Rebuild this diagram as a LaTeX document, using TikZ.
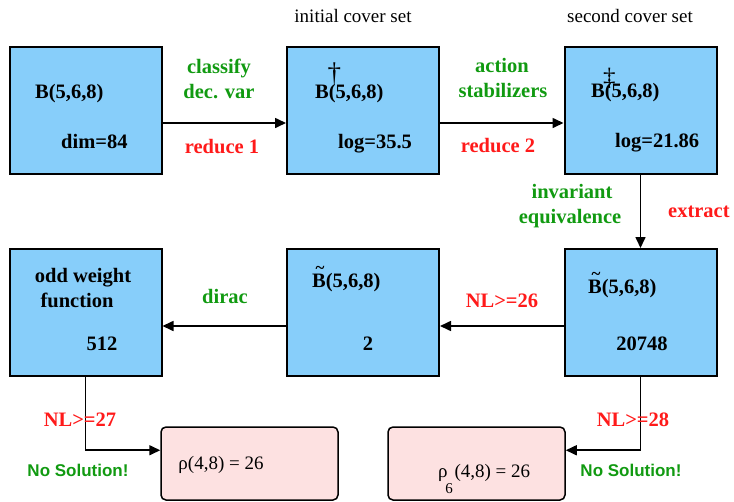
\documentclass[tikz,border=0pt]{standalone}
\usepackage[no-math]{fontspec}
\setmainfont{Liberation Serif}
\newfontfamily\labelsans{Liberation Sans}
\usetikzlibrary{calc,arrows.meta}
\definecolor{boxblue}{HTML}{87CEFA}
\definecolor{boxpink}{HTML}{FDE1E1}
\definecolor{opgreen}{HTML}{119A11}
\definecolor{opred}{HTML}{FF1A1A}
% B with a tilde set above it
\newcommand\tildeB{\rlap{\raisebox{0.66em}[0pt][0pt]{\hspace{0.17em}\fontsize{17}{17}\selectfont\textasciitilde}}B}
\begin{document}
\begin{tikzpicture}[x=1pt,y=-1pt,
  stage/.style={draw=black, line width=2pt, fill=boxblue,
    minimum width=152pt, minimum height=127pt, inner sep=0pt},
  result/.style={draw=black, line width=1.5pt, fill=boxpink, rounded corners=5pt,
    minimum width=177pt, minimum height=73pt, inner sep=0pt},
  flow/.style={line width=1.6pt, -{Triangle[length=11pt,width=10pt]}},
  txt/.style={font=\fontsize{20.5}{25}\selectfont\bfseries, inner sep=0pt},
  optext/.style={txt, text=opgreen},
  cond/.style={txt, text=opred},
  title/.style={font=\fontsize{19}{22}\selectfont, inner sep=0pt},
  verdict/.style={font=\labelsans\fontsize{17}{20}\selectfont\bfseries, text=opgreen, inner sep=0pt},
  formula/.style={font=\fontsize{19}{22}\selectfont, inner sep=0pt},
]
\clip (0,0) rectangle (734,501);

% stages
\node[stage] (b1) at (85.5,110.5) {};
\node[stage] (b2) at (363,110.5) {};
\node[stage] (b3) at (640.5,110.5) {};
\node[stage] (b4) at (85.5,312.5) {};
\node[stage] (b5) at (363,312.5) {};
\node[stage] (b6) at (640.5,312.5) {};

% results
\node[result] (p1) at (249.5,463.5) {};
\node[result] (p2) at (476.5,463.5) {};

% connectors
\draw[flow] ($(b1.east)+(0,12.5)$) -- ($(b2.west)+(0,12.5)$);
\draw[flow] ($(b2.east)+(0,12.5)$) -- ($(b3.west)+(0,12.5)$);
\draw[flow] (b3.south) -- (b6.north);
\draw[flow] ($(b6.west)+(0,13.5)$) -- ($(b5.east)+(0,13.5)$);
\draw[flow] ($(b5.west)+(0,13.5)$) -- ($(b4.east)+(0,13.5)$);
\draw[flow] (b4.south) |- ([yshift=-24pt]p1.north west);
\draw[flow] (b6.south) |- ([yshift=-24pt]p2.north east);

% headings
\node[title, anchor=base] (t1) at (353,22) {initial cover set};
\node[title, anchor=base] (t2) at (630,22) {second cover set};

% stage contents
\node[txt, anchor=base west] (b1a) at (35,98) {B(5,6,8)};
\node[txt, anchor=base west] (b1b) at (61,148) {dim=84};
\node[txt, anchor=base west] (b2a) at (315,98)
  {B\rlap{\hspace{-0.06em}\raisebox{17pt}[0pt][0pt]{\fontsize{27}{27}\mdseries\textdagger}}(5,6,8)};
\node[txt, anchor=base west] (b2b) at (338,148) {log=35.5};
\node[txt, anchor=base west] (b3a) at (591,97)
  {B\rlap{\hspace{-0.08em}\raisebox{12pt}[0pt][0pt]{\fontsize{25}{25}\mdseries\textdaggerdbl}}(5,6,8)};
\node[txt, anchor=base west] (b3b) at (615,147) {log=21.86};
\node[txt, anchor=base] (b4a) at (83,282) {odd weight};
\node[txt, anchor=base] (b4b) at (77,307) {function};
\node[txt, anchor=base] (b4c) at (102,350) {512};
\node[txt, anchor=base west] (b5a) at (312,287) {\tildeB(5,6,8)};
\node[txt, anchor=base] (b5b) at (368,350) {2};
\node[txt, anchor=base west] (b6a) at (588,293) {\tildeB(5,6,8)};
\node[txt, anchor=base] (b6b) at (642,350) {20748};

% operation labels
\node[optext, anchor=base] (o1a) at (219,73) {classify};
\node[optext, anchor=base] (o1b) at (219,98) {dec. var};
\node[cond, anchor=base] (c1) at (222,153) {reduce 1};
\node[optext, anchor=base] (o2a) at (502,72) {action};
\node[optext, anchor=base] (o2b) at (503,97) {stabilizers};
\node[cond, anchor=base] (c2) at (498,152) {reduce 2};
\node[optext, anchor=base] (o3a) at (572,198) {invariant};
\node[optext, anchor=base] (o3b) at (570,223) {equivalence};
\node[cond, anchor=base west] (c3) at (668,217) {extract};
\node[optext, anchor=base] (o4) at (225,303) {dirac};
\node[cond, anchor=base] (c4) at (502,307) {NL>=26};
\node[cond, anchor=base] (c5) at (80,426) {NL>=27};
\node[cond, anchor=base] (c6) at (633,426) {NL>=28};

% verdicts
\node[verdict, anchor=base] (v1) at (78,476) {No Solution!};
\node[verdict, anchor=base] (v2) at (631,476) {No Solution!};

% result formulas
\node[formula, anchor=base] (f1) at (221,469) {ρ(4,8) = 26};
\node[formula, anchor=base west] (f2) at (438,477)
  {ρ\rlap{\hspace{-0.12em}\raisebox{-16pt}{\fontsize{15}{15}\selectfont 6}}\hspace{0.36em}(4,8) = 26};
\end{tikzpicture}
\end{document}
